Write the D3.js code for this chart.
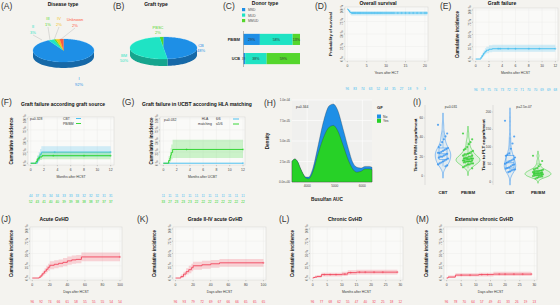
<!DOCTYPE html>
<html><head><meta charset="utf-8">
<script src="https://cdn.jsdelivr.net/npm/d3@7"></script>
<style>
body{margin:0;background:#f4f3ef}
svg{display:block;font-family:"Liberation Sans",Arial,sans-serif}
</style></head>
<body><svg id="c" width="560" height="305"></svg>
<script>
// ---------------- DATA ----------------
const diseaseTypes=["I","II","III","IV","Unknown"];
const diseasePct=[92,3,1,2,2];
const graftTypes=["PBSC","CB","BM"];
const graftPct=[2,48,50];
const donorCats=["PB/BM","UCB"];
const donorTypes=["MSD","MUD","MMUD"];
const donorPBBM=[29,58,13];
const donorUCB=[3,38,59];

const yPctTicks=[0,0.25,0.5,0.75,1];
const yPctLabels=["0 %","25 %","50 %","75 %","100 %"];

// (D) overall survival
const osT=[0,0.2,0.4,0.6,0.8,1.0,20.6];
const osV=[1,0.98,0.96,0.94,0.93,0.92,0.92];
const osLo=[1,0.95,0.92,0.9,0.88,0.87,0.87];
const osHi=[1,1,0.99,0.98,0.97,0.96,0.96];
const osCens=[1.2,1.5,1.8,2.1,2.5,2.8,3.1,3.4,3.8,4.2,4.6,5,5.4,5.8,6.2,6.6,7,7.4,7.8,8.2,8.6,9,9.5,10,10.5,11,11.5,12,13,14,15,16,17,18,19,20,20.5];
const osTicks=[0,5,10,15,20];
const osRiskT=[0,2,4,6,8,10,12,14,16,18,20];
const osRisk=[96,83,74,63,52,44,35,27,18,9,3];

// (E) graft failure
const gfT=[0,0.8,1.0,1.2,1.4,1.6,2.0,2.5,12];
const gfV=[0,0.04,0.08,0.12,0.15,0.18,0.2,0.21,0.21];
const gfLo=[0,0.01,0.04,0.07,0.1,0.12,0.14,0.15,0.15];
const gfHi=[0,0.08,0.13,0.18,0.22,0.25,0.28,0.29,0.29];
const gfCens=[3.4,3.7,4.9,6,8,9.6,12];
const monthTicks=[0,2,4,6,8,10,12];
const monthRiskT=[0,1,2,3,4,5,6,7,8,9,10,11,12];
const gfRisk=[96,78,75,74,73,72,72,71,70,70,69,69,68];

// (F) graft failure by graft source
const fCbtT=[0,1.0,1.2,1.4,1.6,12], fCbtV=[0,0.07,0.14,0.2,0.25,0.25];
const fCbtLo=[0,0.01,0.05,0.1,0.14,0.14], fCbtHi=[0,0.16,0.25,0.32,0.38,0.38];
const fCbtCens=[3.6,12];
const fPbT=[0,0.8,1.0,1.3,1.7,12], fPbV=[0,0.04,0.1,0.14,0.17,0.17];
const fPbLo=[0,0,0.04,0.07,0.09,0.09], fPbHi=[0,0.1,0.18,0.23,0.26,0.26];
const fPbCens=[3.4,8,12];
const fRiskCbt=[44,37,35,34,34,33,33,33,32,32,32,31,31];
const fRiskPb=[52,43,41,40,40,39,39,38,38,38,37,37,37];

// (G) graft failure in UCBT by HLA matching
const g66T=[0,12], g66V=[0,0], g66Lo=[0,0], g66Hi=[0,0];
const g66Cens=[12];
const g5T=[0,0.8,1.0,1.1,1.2,1.4,12], g5V=[0,0.06,0.12,0.18,0.24,0.31,0.31];
const g5Lo=[0,0,0.03,0.06,0.09,0.12,0.12], g5Hi=[0,0.16,0.26,0.34,0.42,0.53,0.53];
const g5Cens=[3.5,12];
const gRisk66=[11,11,11,11,11,11,11,11,11,11,11,11,11];
const gRisk5=[33,27,23,23,23,22,22,22,22,22,22,22,22];

// (H) busulfan AUC density
const aucGrid=[3450,3550,3650,3750,3850,3950,4050,4200,4400,4600,4800,4950,5100,5300,5500,5650,5800,5950,6100,6250,6350];
const densYes=[2.5,2.8,2.5,1.7,1.0,0.5,0.4,1.2,3.5,5.5,6.7,6.9,6.3,4.5,2.6,1.6,1.2,1.3,1.6,1.6,1.5];
const densNo=[2.5,2.8,2.5,1.7,1.0,0.6,0.6,1.6,4.5,7.5,9.3,9.5,8.8,6.5,4.0,2.4,1.8,1.7,1.9,1.9,1.8];
const aucTicks=[4000,5000,6000];
const densTicks=[0,2.5,5,7.5,10];
const densLabels=["0.0e+00","2.5e-05","5.0e-05","7.5e-05","1.0e-04"];

// (I) engraftment
const pmnCbt=[53,44,41,38,35,32,30,29,28,27,26,25,24,24,23,22,21,20,20,19,18,17,16,15,14,13,12,11,10];
const pmnPb=[44,38,35,33,30,28,27,26,25,24,23,22,22,21,21,20,20,19,19,18,18,18,17,17,17,16,16,16,15,15,15,14,14,13,13,12,12,11,10,9,8];
const pltCbt=[175,130,110,95,82,78,75,70,65,62,60,58,55,52,50,48,45,42,40,38,36,35,33,30,28];
const pltPb=[75,60,50,45,40,38,36,35,33,32,30,30,29,28,27,26,25,25,24,23,22,21,20,20,19,18,17,16,15,14,12,10];
const pmnTicks=[0,20,40,60];
const pltTicks=[0,50,100,150,200];

// (J) acute GvHD (days)
const jT=[0,8,10,12,14,16,18,20,25,30,35,40,45,50,56,100];
const jV=[0,0.02,0.06,0.1,0.14,0.18,0.22,0.26,0.28,0.3,0.32,0.35,0.37,0.38,0.43,0.43];
const jLo=[0,0,0.02,0.05,0.08,0.12,0.15,0.18,0.2,0.22,0.24,0.27,0.29,0.3,0.34,0.34];
const jHi=[0,0.05,0.1,0.15,0.2,0.25,0.29,0.34,0.36,0.38,0.41,0.44,0.46,0.47,0.52,0.52];
const jCens=[100];
const dayTicks=[0,20,40,60,80,100];
const dayRiskT=[0,10,20,30,40,50,60,70,80,90,100];
const jRisk=[96,92,74,66,61,58,55,55,55,54,54];

// (K) grade II-IV acute GvHD
const kT=[0,6,9,12,15,18,20,30,40,50,100];
const kV=[0,0.03,0.08,0.13,0.17,0.21,0.25,0.27,0.29,0.31,0.31];
const kLo=[0,0,0.03,0.07,0.1,0.14,0.17,0.19,0.21,0.23,0.23];
const kHi=[0,0.07,0.13,0.2,0.25,0.29,0.33,0.35,0.37,0.39,0.39];
const kCens=[100];
const kRisk=[96,93,79,72,69,67,66,66,65,65,65];

// (L) chronic GvHD (months)
const lT=[0,0.3,0.8,1.5,3,10,12,15,29];
const lV=[0,0.01,0.02,0.03,0.07,0.08,0.11,0.12,0.12];
const lLo=[0,0,0,0.01,0.03,0.04,0.06,0.07,0.07];
const lHi=[0,0.03,0.05,0.06,0.11,0.13,0.16,0.17,0.17];
const lCens=[4,6,8,11,13,16,18,21,24,29];
const monthTicks30=[0,5,10,15,20,25,30];
const m30RiskT=[0,3,6,9,12,15,18,21,24,27,30];
const lRisk=[96,77,68,62,55,47,40,32,25,18,12];

// (M) extensive chronic GvHD
const mT=[0,0.5,3,11,16,29];
const mV=[0,0.02,0.06,0.07,0.08,0.08];
const mLo=[0,0,0.03,0.03,0.04,0.04];
const mHi=[0,0.05,0.1,0.11,0.13,0.13];
const mCens=[5,8,12,14,18,20,23,26,29];
const mRisk=[96,78,70,64,57,49,41,33,26,19,13];

// ---------------- COLOURS ----------------
const C_BLUE="#1e8fe6", C_CYAN="#1fe3c4", C_GREEN="#55d62c", C_YEL="#f2c31b", C_RED="#ff5a3c";
const K_CYAN="#3cbcf0", K_GREEN="#25d425", K_RED="#f2455c";

const svg=d3.select("#c");
svg.append("rect").attr("width",560).attr("height",305).attr("fill","#f4f3ef");

function txt(x,y,s,o={}){
  const t=svg.append("text").attr("x",x).attr("y",y).text(s)
    .attr("font-size",o.size||4).attr("fill",o.color||"#222")
    .attr("text-anchor",o.anchor||"start");
  if(o.bold) t.attr("font-weight","bold");
  if(o.rot) t.attr("transform",`rotate(${o.rot},${x},${y})`);
  return t;
}
function panelLabel(x,y,s){txt(x,y,s,{size:8.5,color:"#333"});}
function title(x,y,s){txt(x,y,s,{size:5,bold:true,anchor:"middle",color:"#111"});}

// ---------------- 3D PIE ----------------
function pie3d(cx,cy,rx,ry,depth,vals,cols,start){
  const arcs=d3.pie().sort(null).startAngle(start).endAngle(start+2*Math.PI)(vals);
  const pt=(a,dy)=>{const th=a-Math.PI/2;return [cx+rx*Math.cos(th),cy+ry*Math.sin(th)+(dy||0)];};
  const g=svg.append("g");
  // sides (front half: screen angle 0..PI  => d3 angle PI/2..3PI/2)
  arcs.forEach((a,i)=>{
    [[Math.PI/2,1.5*Math.PI],[Math.PI/2-2*Math.PI,1.5*Math.PI-2*Math.PI],[Math.PI/2+2*Math.PI,1.5*Math.PI+2*Math.PI]].forEach(([f0,f1])=>{
      const s=Math.max(a.startAngle,f0), e=Math.min(a.endAngle,f1);
      if(e<=s) return;
      const n=40, top=[],bot=[];
      for(let k=0;k<=n;k++){const an=s+(e-s)*k/n; top.push(pt(an)); bot.push(pt(an,depth));}
      const path="M"+top.map(p=>p.join(",")).join("L")+"L"+bot.reverse().map(p=>p.join(",")).join("L")+"Z";
      g.append("path").attr("d",path).attr("fill",d3.color(cols[i]).darker(0.9));
    });
  });
  arcs.forEach((a,i)=>{
    const n=Math.max(4,Math.ceil((a.endAngle-a.startAngle)*30));
    const pts=[[cx,cy]];
    for(let k=0;k<=n;k++) pts.push(pt(a.startAngle+(a.endAngle-a.startAngle)*k/n));
    g.append("path").attr("d","M"+pts.map(p=>p.join(",")).join("L")+"Z").attr("fill",cols[i])
     .attr("stroke",d3.color(cols[i]).brighter(0.3)).attr("stroke-width",0.2);
  });
  return arcs;
}

// (A)
panelLabel(1,9,"(A)");
title(63,6,"Disease type");
const aCols=[C_BLUE,C_CYAN,C_GREEN,C_YEL,C_RED];
pie3d(63.5,50.5,30.5,11.5,6,diseasePct,aCols,0);
const aLab=[[79,80],[33,28],[48,20],[59,20],[75,21]];
const aTgt=[[79,75],[42,40],[50,40],[54,40],[60,40]];
diseaseTypes.forEach((d,i)=>{
  if(i>0) svg.append("line").attr("x1",aLab[i][0]).attr("y1",aLab[i][1]+7).attr("x2",aTgt[i][0]).attr("y2",aTgt[i][1]).attr("stroke","#999").attr("stroke-width",0.3);
  txt(aLab[i][0],aLab[i][1],d,{anchor:"middle",color:aCols[i]});
  txt(aLab[i][0],aLab[i][1]+5.5,diseasePct[i]+"%",{anchor:"middle",color:aCols[i]});
});

// (B)
panelLabel(113,9,"(B)");
title(156,6,"Graft type");
const bCols=[C_GREEN,C_BLUE,C_CYAN];
pie3d(163.5,48,33.5,11,7,graftPct,bCols,-0.12);
const bLab=[[158,29],[201,46.5],[124,57]];
graftTypes.forEach((d,i)=>{
  txt(bLab[i][0],bLab[i][1],d,{anchor:"middle",color:bCols[i]});
  txt(bLab[i][0],bLab[i][1]+5,graftPct[i]+"%",{anchor:"middle",color:bCols[i]});
});

// (C)
panelLabel(223,9,"(C)");
title(265,5,"Donor type");
const dCols=[C_BLUE,C_CYAN,C_GREEN];
donorTypes.forEach((d,i)=>{
  svg.append("rect").attr("x",242).attr("y",8+i*5.5).attr("width",3.2).attr("height",3.2).attr("fill",dCols[i]);
  txt(248,11+i*5.5,d,{size:3.4,color:"#555"});
});
{
  const x=d3.scaleLinear().domain([0,100]).range([243.5,300]);
  const y=d3.scaleBand().domain(donorCats).range([30,68]).paddingInner(0.42).paddingOuter(0.2);
  [donorPBBM,donorUCB].forEach((vals,ci)=>{
    let acc=0;
    vals.forEach((v,i)=>{
      svg.append("rect").attr("x",x(acc)).attr("y",y(donorCats[ci])).attr("width",x(acc+v)-x(acc)).attr("height",y.bandwidth()).attr("fill",dCols[i]);
      txt((x(acc)+x(acc+v))/2,y(donorCats[ci])+y.bandwidth()/2+1.3,v+"%",{size:3.6,anchor:"middle",color:"#333"});
      acc+=v;
    });
    txt(240,y(donorCats[ci])+y.bandwidth()/2+1.5,donorCats[ci],{size:3.8,bold:true,anchor:"end"});
  });
  svg.append("line").attr("x1",243.5).attr("x2",243.5).attr("y1",31).attr("y2",67).attr("stroke","#777").attr("stroke-width",0.5);
}

// ---------------- KM / CI panels ----------------
function km(o){
  const g=svg.append("g");
  const x=d3.scaleLinear().domain(o.xd).range([o.x0,o.x1]);
  const y=d3.scaleLinear().domain([-0.04,1.04]).range([o.y1,o.y0]);
  g.append("rect").attr("x",o.x0).attr("y",o.y0).attr("width",o.x1-o.x0).attr("height",o.y1-o.y0)
    .attr("fill","#fafaf8").attr("stroke","#d2d2d0").attr("stroke-width",0.5);
  yPctTicks.forEach(v=>g.append("line").attr("x1",o.x0).attr("x2",o.x1).attr("y1",y(v)).attr("y2",y(v)).attr("stroke","#ebebe9").attr("stroke-width",0.4));
  o.xt.forEach(v=>g.append("line").attr("x1",x(v)).attr("x2",x(v)).attr("y1",o.y0).attr("y2",o.y1).attr("stroke","#ebebe9").attr("stroke-width",0.4));
  yPctTicks.forEach((v,i)=>{
    g.append("line").attr("x1",o.x0-1.2).attr("x2",o.x0).attr("y1",y(v)).attr("y2",y(v)).attr("stroke","#666").attr("stroke-width",0.3);
    g.append("text").attr("transform",`translate(${o.x0-2.2},${y(v)}) rotate(-90)`).attr("text-anchor","middle")
      .attr("font-size",3).attr("fill","#444").text(yPctLabels[i]);
  });
  o.xt.forEach(v=>{
    g.append("line").attr("x1",x(v)).attr("x2",x(v)).attr("y1",o.y1).attr("y2",o.y1+1.2).attr("stroke","#666").attr("stroke-width",0.3);
    g.append("text").attr("x",x(v)).attr("y",o.y1+5.5).attr("text-anchor","middle").attr("font-size",3.4).attr("fill","#444").text(v);
  });
  txt((o.x0+o.x1)/2,o.y1+13,o.xlab,{size:3.4,anchor:"middle",color:"#333"});
  const ylx=o.ylx, yly=(o.y0+o.y1)/2;
  g.append("text").attr("transform",`translate(${ylx},${yly}) rotate(-90)`).attr("text-anchor","middle")
    .attr("font-size",o.ylsize||4.6).attr("font-weight","bold").attr("fill","#111").text(o.ylab);
  o.curves.forEach(c=>{
    const pts=c.t.map((t,i)=>({t,v:c.v[i],lo:c.lo[i],hi:c.hi[i]}));
    g.append("path").datum(pts).attr("d",d3.area().curve(d3.curveStepAfter).x(d=>x(d.t)).y0(d=>y(d.lo)).y1(d=>y(d.hi)))
      .attr("fill",c.color).attr("opacity",0.22);
    g.append("path").datum(pts).attr("d",d3.line().curve(d3.curveStepAfter).x(d=>x(d.t)).y(d=>y(d.v)))
      .attr("fill","none").attr("stroke",c.color).attr("stroke-width",0.9);
    (c.cens||[]).forEach(t=>{
      let v=c.v[0]; c.t.forEach((tt,i)=>{if(tt<=t) v=c.v[i];});
      g.append("path").attr("d",`M${x(t)-1.1},${y(v)}h2.2M${x(t)},${y(v)-1.1}v2.2`).attr("stroke",c.color).attr("stroke-width",0.4);
    });
  });
  (o.risk||[]).forEach(r=>{
    r.vals.forEach((v,i)=>g.append("text").attr("x",x(o.riskT[i])).attr("y",r.y).attr("text-anchor","middle")
      .attr("font-size",3.2).attr("fill",r.color).text(v));
  });
  return {x,y,g};
}

// (D)
panelLabel(315,9,"(D)");
title(378,5,"Overall survival");
km({x0:345,x1:428,y0:7,y1:61,xd:[-0.6,20.8],xt:osTicks,xlab:"Years after HCT",ylab:"Probability of survival",ylx:332,ylsize:4.2,
  curves:[{t:osT,v:osV,lo:osLo,hi:osHi,color:K_CYAN,cens:osCens}],
  riskT:osRiskT,risk:[{vals:osRisk,y:89.5,color:K_CYAN}]});

// (E)
panelLabel(440,9,"(E)");
title(502,5,"Graft failure");
km({x0:473,x1:558,y0:8,y1:61,xd:[-0.4,12.4],xt:monthTicks,xlab:"Months after HCST",ylab:"Cumulative incidence",ylx:459,
  curves:[{t:gfT,v:gfV,lo:gfLo,hi:gfHi,color:K_CYAN,cens:gfCens}],
  riskT:monthRiskT,risk:[{vals:gfRisk,y:91,color:K_CYAN}]});

// (F)
panelLabel(1,105,"(F)");
title(63,106,"Graft failure according graft source");
{
  const r=km({x0:28,x1:114,y0:117,y1:165,xd:[-0.4,12.5],xt:monthTicks,xlab:"Months after HCST",ylab:"Cumulative incidence",ylx:13,
    curves:[{t:fCbtT,v:fCbtV,lo:fCbtLo,hi:fCbtHi,color:K_CYAN,cens:fCbtCens},{t:fPbT,v:fPbV,lo:fPbLo,hi:fPbHi,color:K_GREEN,cens:fPbCens}],
    riskT:monthRiskT,risk:[{vals:fRiskCbt,y:196.5,color:K_CYAN},{vals:fRiskPb,y:203,color:K_GREEN}]});
  txt(30,120,"p=0.328",{size:3.4,color:"#333"});
  txt(63,119.5,"CBT",{size:3.4,color:"#333"}); txt(63,124.5,"PB/BM",{size:3.4,color:"#333"});
  svg.append("line").attr("x1",76).attr("x2",81).attr("y1",118.5).attr("y2",118.5).attr("stroke",K_CYAN).attr("stroke-width",0.9);
  svg.append("line").attr("x1",76).attr("x2",81).attr("y1",123.5).attr("y2",123.5).attr("stroke",K_GREEN).attr("stroke-width",0.9);
}

// (G)
panelLabel(122,105,"(G)");
title(197,106,"Graft failure in UCBT according HLA matching");
{
  km({x0:160,x1:245,y0:117,y1:165,xd:[-0.5,12.3],xt:monthTicks,xlab:"Months after UCBT",ylab:"Cumulative incidence",ylx:153,
    curves:[{t:g66T,v:g66V,lo:g66Lo,hi:g66Hi,color:K_CYAN,cens:g66Cens},{t:g5T,v:g5V,lo:g5Lo,hi:g5Hi,color:K_GREEN,cens:g5Cens}],
    riskT:monthRiskT,risk:[{vals:gRisk66,y:196.5,color:K_CYAN},{vals:gRisk5,y:203,color:K_GREEN}]});
  txt(164,121,"p=0.032",{size:3.4,color:"#333"});
  txt(205,120,"HLA",{size:3.4,anchor:"middle",color:"#333"}); txt(205,125,"matching",{size:3.4,anchor:"middle",color:"#333"});
  txt(216,120,"6/6",{size:3.4,color:"#333"}); txt(216,125,"\u22645/6",{size:3.4,color:"#333"});
  svg.append("line").attr("x1",233).attr("x2",239).attr("y1",119).attr("y2",119).attr("stroke",K_CYAN).attr("stroke-width",0.9);
  svg.append("line").attr("x1",233).attr("x2",239).attr("y1",124).attr("y2",124).attr("stroke",K_GREEN).attr("stroke-width",0.9);
}

// (H) density
panelLabel(264,106,"(H)");
{
  const x0=292,x1=372,y0=100,y1=182;
  const x=d3.scaleLinear().domain([3450,6350]).range([x0,x1]);
  const y=d3.scaleLinear().domain([0,10]).range([y1,y0]);
  svg.append("rect").attr("x",x0).attr("y",y0).attr("width",x1-x0).attr("height",y1-y0).attr("fill","#f0f0ee");
  aucTicks.forEach(v=>svg.append("line").attr("x1",x(v)).attr("x2",x(v)).attr("y1",y0).attr("y2",y1).attr("stroke","#fff").attr("stroke-width",0.6));
  densTicks.forEach((v,i)=>{
    svg.append("line").attr("x1",x0).attr("x2",x1).attr("y1",y(v)).attr("y2",y(v)).attr("stroke","#fff").attr("stroke-width",0.6);
    txt(x0-2,y(v)+1,densLabels[i],{size:3,anchor:"end",color:"#444"});
  });
  aucTicks.forEach(v=>txt(x(v),y1+5,String(v),{size:3.2,anchor:"middle",color:"#444"}));
  const area=arr=>d3.area().curve(d3.curveMonotoneX).x((d,i)=>x(aucGrid[i])).y0(y(0)).y1(d=>y(d))(arr);
  svg.append("path").attr("d",area(densNo)).attr("fill","#1e8fe6").attr("stroke","#333").attr("stroke-width",0.3);
  svg.append("path").attr("d",area(densYes)).attr("fill","#27d127").attr("stroke","#333").attr("stroke-width",0.3);
  txt(296,108,"p=0.344",{size:3.4,color:"#333"});
  svg.append("text").attr("transform",`translate(269,141) rotate(-90)`).attr("text-anchor","middle").attr("font-size",4.6).attr("font-weight","bold").attr("fill","#111").text("Density");
  txt(327,201,"Busulfan AUC",{size:4.8,bold:true,anchor:"middle"});
  txt(377,109,"GF",{size:4.2,bold:true});
  svg.append("rect").attr("x",377).attr("y",114.5).attr("width",4).attr("height",4).attr("fill","#1e8fe6");
  svg.append("rect").attr("x",377).attr("y",118.8).attr("width",4).attr("height",4).attr("fill","#27d127");
  txt(383,117.8,"No",{size:3.4,color:"#333"}); txt(383,122.2,"Yes",{size:3.4,color:"#333"});
}

// (I) violins
panelLabel(413,105,"(I)");
function violinPlot(o){
  const y=d3.scaleLinear().domain(o.yd).range([185,105]);
  svg.append("line").attr("x1",o.ax).attr("x2",o.ax).attr("y1",105).attr("y2",185).attr("stroke","#bbb").attr("stroke-width",0.4);
  o.ticks.forEach(v=>{
    svg.append("line").attr("x1",o.ax-1).attr("x2",o.ax).attr("y1",y(v)).attr("y2",y(v)).attr("stroke","#999").attr("stroke-width",0.3);
    txt(o.ax-2,y(v)+1,String(v),{size:3.2,anchor:"end",color:"#444"});
  });
  const dens=o.groups.map(gr=>{
    const s=gr.vals.slice().sort(d3.ascending);
    const sd=d3.deviation(s), iqr=d3.quantile(s,0.75)-d3.quantile(s,0.25);
    const bw=0.9*Math.min(sd,iqr/1.34)*Math.pow(s.length,-0.2);
    const lo=s[0]-3*bw, hi=s[s.length-1]+3*bw;
    const pts=d3.range(60).map(i=>lo+(hi-lo)*i/59).map(p=>[p,d3.mean(s,v=>Math.exp(-0.5*((p-v)/bw)**2))/(bw*Math.sqrt(2*Math.PI))]);
    return {s,pts};
  });
  const mx=d3.max(dens,d=>d3.max(d.pts,p=>p[1]));
  const w=d3.scaleLinear().domain([0,mx]).range([0,o.maxW]);
  o.groups.forEach((gr,gi)=>{
    const cx=gr.cx, d=dens[gi];
    svg.append("path").datum(d.pts).attr("d",d3.area().curve(d3.curveBasis).y(p=>y(p[0])).x0(p=>cx-w(p[1])).x1(p=>cx+w(p[1])))
      .attr("fill",gr.color).attr("fill-opacity",0.08).attr("stroke",gr.color).attr("stroke-width",0.5);
    const q1=d3.quantile(d.s,0.25),q2=d3.quantile(d.s,0.5),q3=d3.quantile(d.s,0.75);
    const lw=Math.max(d.s[0],q1-1.5*(q3-q1)), uw=Math.min(d.s[d.s.length-1],q3+1.5*(q3-q1));
    svg.append("rect").attr("x",cx-4).attr("y",y(q3)).attr("width",8).attr("height",y(q1)-y(q3)).attr("fill","none").attr("stroke",gr.color).attr("stroke-width",0.5);
    svg.append("line").attr("x1",cx-4).attr("x2",cx+4).attr("y1",y(q2)).attr("y2",y(q2)).attr("stroke",gr.color).attr("stroke-width",0.6);
    svg.append("line").attr("x1",cx).attr("x2",cx).attr("y1",y(q3)).attr("y2",y(uw)).attr("stroke",gr.color).attr("stroke-width",0.4);
    svg.append("line").attr("x1",cx).attr("x2",cx).attr("y1",y(q1)).attr("y2",y(lw)).attr("stroke",gr.color).attr("stroke-width",0.4);
    gr.vals.forEach((v,i)=>{
      const j=(((i*37)%13)-6)/6*5;
      svg.append("circle").attr("cx",cx+j).attr("cy",y(v)).attr("r",1.1).attr("fill",gr.color).attr("fill-opacity",0.75);
    });
    txt(cx,194,gr.name,{size:4.4,bold:true,anchor:"middle"});
  });
  svg.append("text").attr("transform",`translate(${o.ylx},145) rotate(-90)`).attr("text-anchor","middle").attr("font-size",4.4).attr("font-weight","bold").attr("fill","#111").text(o.ylab);
  txt(o.px,107.5,o.p,{size:3.4,anchor:"middle",color:"#333"});
}
violinPlot({ax:425,yd:[-9.3,73.5],ticks:pmnTicks,maxW:12,ylx:417,ylab:"Time to PMN engraftment",px:451,p:"p=0.031",
  groups:[{name:"CBT",cx:443,vals:pmnCbt,color:"#2a8ef0"},{name:"PB/BM",cx:468,vals:pmnPb,color:"#27c927"}]});
violinPlot({ax:493,yd:[-8.6,220],ticks:pltTicks,maxW:13,ylx:485,ylab:"Time to PLT engraftment",px:524,p:"p=2.5e-07",
  groups:[{name:"CBT",cx:510,vals:pltCbt,color:"#2a8ef0"},{name:"PB/BM",cx:538,vals:pltPb,color:"#27c927"}]});

// (J)
panelLabel(1,222,"(J)");
title(54,221,"Acute GvHD");
km({x0:30,x1:122,y0:227,y1:280,xd:[-2.6,102.3],xt:dayTicks,xlab:"Days after HCST",ylab:"Cumulative incidence",ylx:13,
  curves:[{t:jT,v:jV,lo:jLo,hi:jHi,color:K_RED,cens:jCens}],riskT:dayRiskT,risk:[{vals:jRisk,y:303,color:K_RED}]});
// (K)
panelLabel(137,222,"(K)");
title(215,221,"Grade II-IV acute GvHD");
km({x0:173,x1:266,y0:227,y1:280,xd:[-2.9,102.9],xt:dayTicks,xlab:"Days after HCST",ylab:"Cumulative incidence",ylx:156,
  curves:[{t:kT,v:kV,lo:kLo,hi:kHi,color:K_RED,cens:kCens}],riskT:dayRiskT,risk:[{vals:kRisk,y:303,color:K_RED}]});
// (L)
panelLabel(279,222,"(L)");
title(345,221,"Chronic GvHD");
km({x0:310,x1:403,y0:227,y1:280,xd:[-0.9,30.9],xt:monthTicks30,xlab:"Months after HCST",ylab:"Cumulative incidence",ylx:294,
  curves:[{t:lT,v:lV,lo:lLo,hi:lHi,color:K_RED,cens:lCens}],riskT:m30RiskT,risk:[{vals:lRisk,y:303,color:K_RED}]});
// (M)
panelLabel(416,222,"(M)");
title(484,221,"Extensive chronic GvHD");
km({x0:444,x1:537,y0:227,y1:280,xd:[-0.9,30.9],xt:monthTicks30,xlab:"Days after HCST",ylab:"Cumulative incidence",ylx:428,
  curves:[{t:mT,v:mV,lo:mLo,hi:mHi,color:K_RED,cens:mCens}],riskT:m30RiskT,risk:[{vals:mRisk,y:303,color:K_RED}]});
</script></body></html>
